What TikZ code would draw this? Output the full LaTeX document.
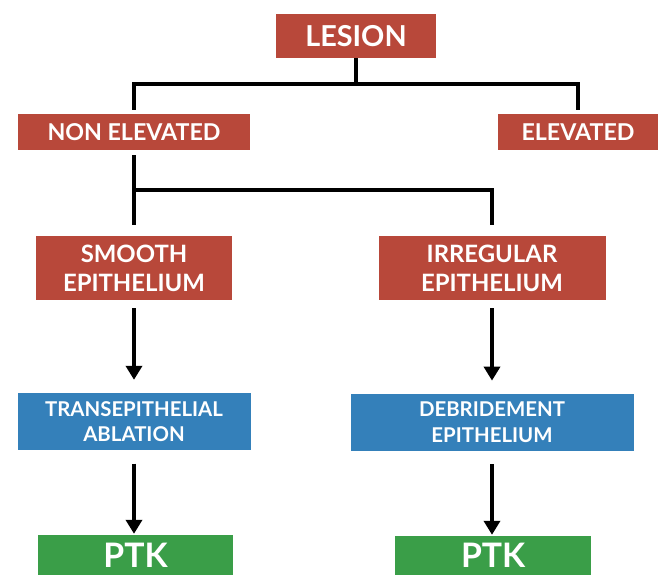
\documentclass[tikz,border=0pt]{standalone}
\usepackage{fontspec}
\setmainfont{Lato}
\usetikzlibrary{arrows.meta}
\definecolor{lesred}{RGB}{184,72,58}
\definecolor{treatblue}{RGB}{52,128,186}
\definecolor{ptkgreen}{RGB}{58,158,72}
\tikzset{
  redbox/.style={fill=lesred, text=white, inner sep=0pt, align=center},
  bluebox/.style={fill=treatblue, text=white, inner sep=0pt, align=center},
  greenbox/.style={fill=ptkgreen, text=white, inner sep=0pt, align=center},
  tree/.style={line width=2.6pt},
  flow/.style={line width=2.6pt, -{Triangle[width=0.4cm,length=0.35cm]}}
}
\begin{document}
\begin{tikzpicture}
\useasboundingbox (0,0) rectangle (16.5,-14.375);
% boxes
\node[redbox, minimum width=4cm, minimum height=1.1cm, font=\bfseries\fontsize{20.5}{24}\selectfont] (lesion) at (8.9,-0.9) {LESION};
\node[redbox, minimum width=5.8cm, minimum height=0.9cm, font=\bfseries\fontsize{16.5}{19}\selectfont] (nonelev) at (3.35,-3.3) {NON ELEVATED};
\node[redbox, minimum width=4cm, minimum height=0.9cm, font=\bfseries\fontsize{16.5}{19}\selectfont] (elev) at (14.45,-3.3) {ELEVATED};
\node[redbox, minimum width=4.9cm, minimum height=1.6cm, font=\bfseries\fontsize{17}{20.6}\selectfont] (smooth) at (3.35,-6.7) {SMOOTH\\EPITHELIUM};
\node[redbox, minimum width=5.675cm, minimum height=1.6cm, font=\bfseries\fontsize{17}{20.6}\selectfont] (irreg) at (12.3,-6.7) {IRREGULAR\\EPITHELIUM};
\node[bluebox, minimum width=5.825cm, minimum height=1.425cm, font=\bfseries\fontsize{14.5}{18.4}\selectfont] (trans) at (3.35,-10.54) {TRANSEPITHELIAL\\ABLATION};
\node[bluebox, minimum width=7.075cm, minimum height=1.425cm, font=\bfseries\fontsize{14.5}{18.4}\selectfont] (debrid) at (12.3,-10.56) {DEBRIDEMENT\\EPITHELIUM};
\node[greenbox, minimum width=4.875cm, minimum height=1.0cm, anchor=north, font=\bfseries\fontsize{24}{28}\selectfont] (ptka) at (3.39,-13.375) {PTK};
\node[greenbox, minimum width=4.9cm, minimum height=0.975cm, anchor=north, font=\bfseries\fontsize{24}{28}\selectfont] (ptkb) at (12.33,-13.4) {PTK};
% tree lines
\coordinate (busa) at (8.9,-2.1);
\coordinate (busb) at (3.35,-4.75);
\draw[tree] (lesion) -- (busa);
\draw[tree, shorten >=0.1cm] (busa) -| (nonelev.north);
\draw[tree, shorten >=0.1cm] (busa) -| (elev.north);
\draw[tree, shorten <=0.12cm] (nonelev) -- (busb);
\draw[tree, shorten >=0.28cm] (busb) -- (smooth);
\draw[tree, shorten >=0.28cm] (busb) -| (irreg.north);
% arrows
\draw[flow, shorten <=0.2cm, shorten >=0.325cm] (smooth) -- (trans);
\draw[flow, shorten <=0.2cm, shorten >=0.325cm] (irreg) -- (debrid);
\draw[flow, shorten <=0.33cm, shorten >=0.03cm] (trans) -- (trans |- ptka.north);
\draw[flow, shorten <=0.33cm, shorten >=0.03cm] (debrid) -- (debrid |- ptkb.north);
\end{tikzpicture}
\end{document}
